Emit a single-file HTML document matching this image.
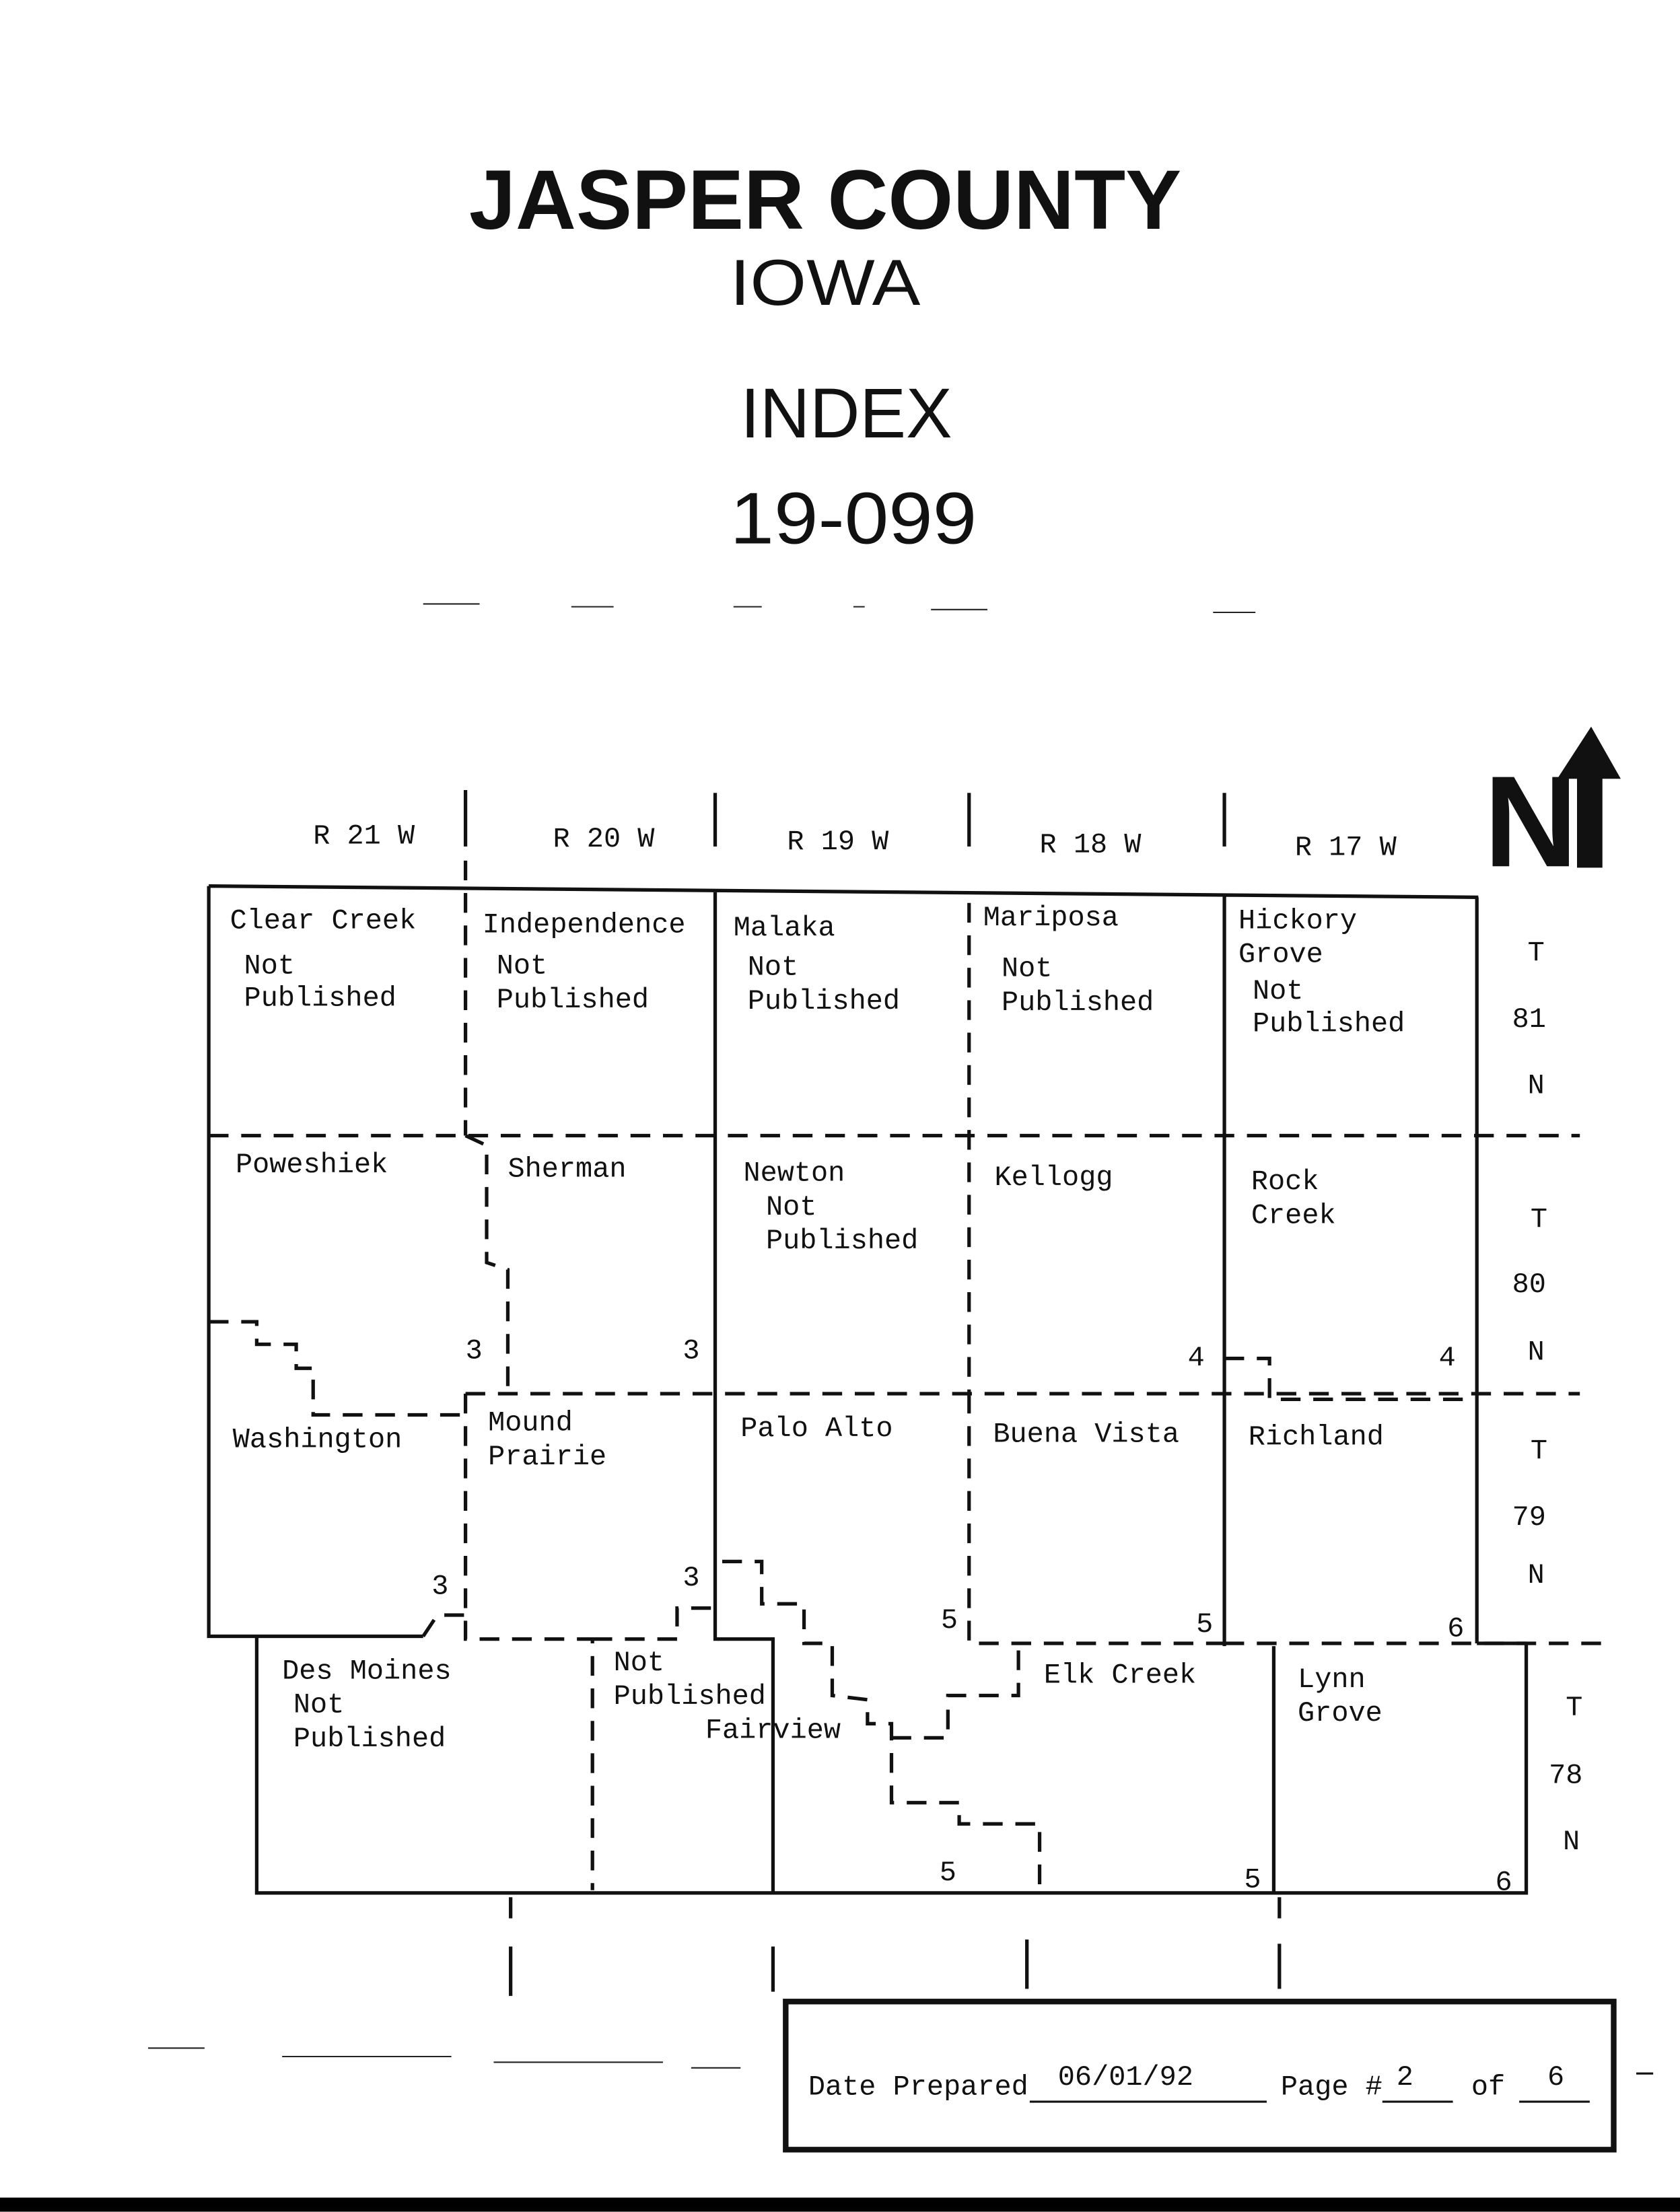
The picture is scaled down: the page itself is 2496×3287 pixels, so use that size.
<!DOCTYPE html>
<html><head><meta charset="utf-8"><style>
html,body{margin:0;padding:0;background:#fff}
svg{display:block}
.t{font-family:"Liberation Mono",monospace;font-size:20px;fill:#111}
.h{font-family:"Liberation Sans",sans-serif;fill:#111;text-anchor:middle}
</style></head><body>
<svg width="2496" height="3287" viewBox="0 0 1191 1568" xmlns="http://www.w3.org/2000/svg">
<rect width="1191" height="1568" fill="#fff"/>
<text class="h" x="585" y="162" font-size="60" font-weight="bold" textLength="505" lengthAdjust="spacingAndGlyphs">JASPER COUNTY</text>
<text class="h" x="585" y="216" font-size="46" textLength="135" lengthAdjust="spacingAndGlyphs">IOWA</text>
<text class="h" x="600" y="310" font-size="50" textLength="150" lengthAdjust="spacingAndGlyphs">INDEX</text>
<text class="h" x="605" y="385" font-size="52" textLength="175" lengthAdjust="spacingAndGlyphs">19-099</text>
<g stroke="#222" stroke-width="1" fill="none">
<path d="M300 428h40M405 430h30M520 430h20M605 430h8M660 432h40M860 434h30M105 1452h40M200 1458h120M350 1462h120M490 1466h35"/>
</g>
<g stroke="#111" stroke-width="2.5" fill="none">
<path d="M148 628L1048 636M148 628V1160H300M507 632V1162H548V1342M868 634V1167M1047 636V1165M182 1160V1342H1082V1165M903 1167V1342M1047 1165H1082"/>
<path d="M330 560v40M507 562v38M687 562v38M868 562v38"/>
<path d="M362 1345v15M362 1380v35M548 1380v32M728 1375v35M907 1345v15M907 1378v32"/>
</g>
<g stroke="#111" stroke-width="2.5" fill="none" stroke-dasharray="14 9">
<path d="M330 610V805M687 640V988M148 805H1120M330 988H1120M148 937H182V953H210V970H222V1003H330M330 805L345 812V895L360 900V985M330 988V1162H420V1340M420 1162H480V1140H510M300 1160L310 1145H330"/>
<path d="M512 1107H540V1137H570V1165H590V1202L615 1205V1222H632V1278H680V1293H737V1340M632 1232H672V1202H722V1165M687 988V1165H868M868 1165H1135M868 963H900V992H1047"/>
</g>
<g class="t">
<text x="222" y="598">R 21 W</text><text x="392" y="600">R 20 W</text><text x="558" y="602">R 19 W</text><text x="737" y="604">R 18 W</text><text x="918" y="606">R 17 W</text>
<text x="163" y="658">Clear Creek</text><text x="173" y="690">Not</text><text x="173" y="713">Published</text>
<text x="342" y="661">Independence</text><text x="352" y="690">Not</text><text x="352" y="714">Published</text>
<text x="520" y="663">Malaka</text><text x="530" y="691">Not</text><text x="530" y="715">Published</text>
<text x="697" y="656">Mariposa</text><text x="710" y="692">Not</text><text x="710" y="716">Published</text>
<text x="878" y="658">Hickory</text><text x="878" y="682">Grove</text><text x="888" y="708">Not</text><text x="888" y="731">Published</text>
<text x="1083" y="681">T</text><text x="1072" y="728">81</text><text x="1083" y="775">N</text>
<text x="167" y="831">Poweshiek</text><text x="360" y="834">Sherman</text>
<text x="527" y="837">Newton</text><text x="543" y="861">Not</text><text x="543" y="885">Published</text>
<text x="705" y="840">Kellogg</text><text x="887" y="843">Rock</text><text x="887" y="867">Creek</text>
<text x="1085" y="870">T</text><text x="1072" y="916">80</text><text x="1083" y="964">N</text>
<text x="330" y="963">3</text><text x="484" y="963">3</text><text x="842" y="968">4</text><text x="1020" y="968">4</text>
<text x="165" y="1026">Washington</text><text x="346" y="1014">Mound</text><text x="346" y="1038">Prairie</text>
<text x="525" y="1018">Palo Alto</text><text x="704" y="1022">Buena Vista</text><text x="885" y="1024">Richland</text>
<text x="1085" y="1034">T</text><text x="1072" y="1081">79</text><text x="1083" y="1122">N</text>
<text x="306" y="1130">3</text><text x="484" y="1124">3</text><text x="667" y="1154">5</text><text x="848" y="1157">5</text><text x="1026" y="1160">6</text>
<text x="200" y="1190">Des Moines</text><text x="208" y="1214">Not</text><text x="208" y="1238">Published</text>
<text x="435" y="1184">Not</text><text x="435" y="1208">Published</text><text x="500" y="1232">Fairview</text>
<text x="740" y="1193">Elk Creek</text><text x="920" y="1196">Lynn</text><text x="920" y="1220">Grove</text>
<text x="1110" y="1216">T</text><text x="1098" y="1264">78</text><text x="1108" y="1311">N</text>
<text x="666" y="1333">5</text><text x="882" y="1338">5</text><text x="1060" y="1340">6</text>
</g>
<text x="1052" y="614" font-family="Liberation Sans,sans-serif" font-weight="bold" font-size="92" fill="#111">N</text>
<path d="M1118 615V552H1104L1128 515L1149 552H1136V615Z" fill="#111"/>
<rect x="557" y="1419" width="587" height="105" fill="none" stroke="#111" stroke-width="4"/>
<g class="t">
<text x="573" y="1485">Date Prepared</text><text x="750" y="1478">06/01/92</text>
<text x="908" y="1485">Page #</text><text x="990" y="1478">2</text><text x="1043" y="1485">of</text><text x="1097" y="1478">6</text>
</g>
<path d="M730 1490H898M980 1490H1030M1077 1490H1127M1160 1470h12" stroke="#111" stroke-width="1.5"/>
<rect x="0" y="1558" width="1191" height="10" fill="#000"/>
</svg>
</body></html>
